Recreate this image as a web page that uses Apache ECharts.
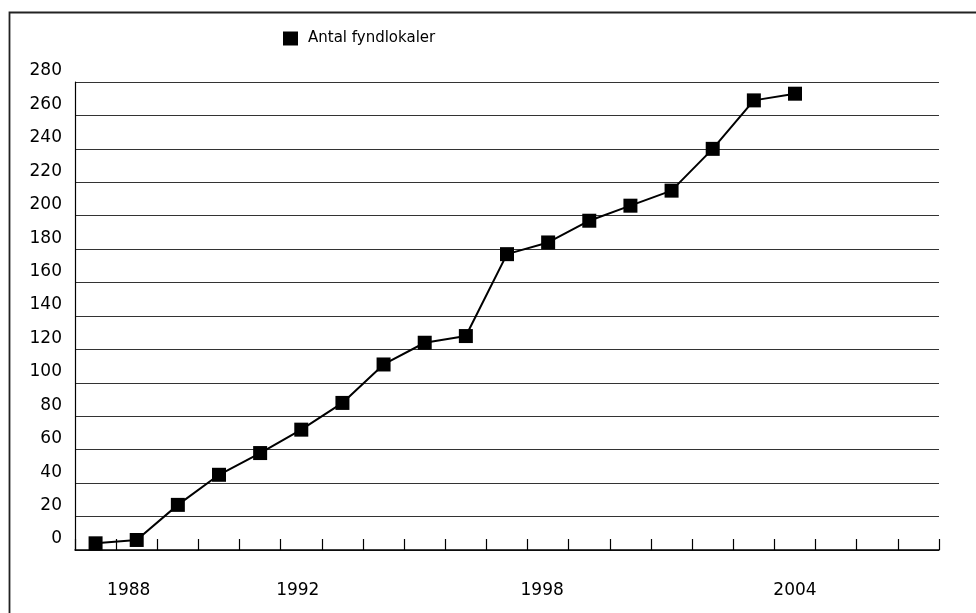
<!DOCTYPE html>
<html>
<head>
<meta charset="utf-8">
<script src="https://cdn.jsdelivr.net/npm/echarts@6/dist/echarts.min.js"></script>
<style>
html,body{margin:0;padding:0;background:#fff;}
#chart{width:976px;height:613px;}
</style>
</head>
<body>
<div id="chart"></div>
<script>
var years = ['1987','1988','1989','1990','1991','1992','1993','1994','1995','1996','1997','1998','1999','2000','2001','2002','2003','2004','2005','2006','2007'];
var shownYears = ['1988','1992','1998','2004'];
var seriesName = 'Antal fyndlokaler';
var values = [4, 6, 27, 45, 58, 72, 88, 111, 124, 128, 177, 184, 197, 206, 215, 240, 269, 273];

var FONT = 'DejaVu Sans';
var labelShift = {'1988': 16, '1992': 7, '1998': 12, '2004': 0};
var rich = {};
shownYears.forEach(function (y) {
  rich['y' + y] = {fontFamily: FONT, fontSize: 17, color: '#000', padding: [0, labelShift[y], 0, 0]};
});

var chart = echarts.init(document.getElementById('chart'));
chart.setOption({
  animation: false,
  backgroundColor: '#fff',
  graphic: [{
    type: 'rect',
    shape: {x: 9.5, y: 12.5, width: 1100, height: 800},
    style: {fill: 'none', stroke: '#222', lineWidth: 1.8},
    silent: true, z: -1
  }],
  legend: {
    left: 278, top: 26,
    icon: 'rect', itemWidth: 15, itemHeight: 14,
    textStyle: {fontFamily: FONT, fontSize: 15, color: '#000', padding: [0,0,0,5]},
    data: [seriesName]
  },
  grid: {left: 75, right: 37, top: 82, bottom: 63, containLabel: false},
  xAxis: {
    type: 'category',
    data: years,
    boundaryGap: true,
    axisLine: {show: true, lineStyle: {color: '#000', width: 1.5}},
    axisTick: {show: true, inside: true, length: 11, interval: 0, lineStyle: {color: '#000', width: 1.2}},
    axisLabel: {
      interval: function (idx, val) { return shownYears.indexOf(val) >= 0; },
      margin: 32,
      fontFamily: FONT, fontSize: 17, color: '#000',
      formatter: function (val) { return '{y' + val + '|' + val + '}'; },
      rich: rich
    },
    splitLine: {show: false}
  },
  yAxis: {
    type: 'value',
    min: 0, max: 280, interval: 20,
    axisLine: {show: true, lineStyle: {color: '#000', width: 1.2}},
    axisTick: {show: false},
    axisLabel: {
      margin: 13,
      fontFamily: FONT, fontSize: 17, color: '#000',
      verticalAlign: 'bottom',
      lineHeight: 22
    },
    splitLine: {show: true, lineStyle: {color: '#333', width: 1.2}}
  },
  series: [{
    name: seriesName,
    type: 'line',
    data: values,
    symbol: 'rect',
    symbolSize: 14,
    itemStyle: {color: '#000'},
    lineStyle: {color: '#000', width: 2}
  }]
});
</script>
</body>
</html>
